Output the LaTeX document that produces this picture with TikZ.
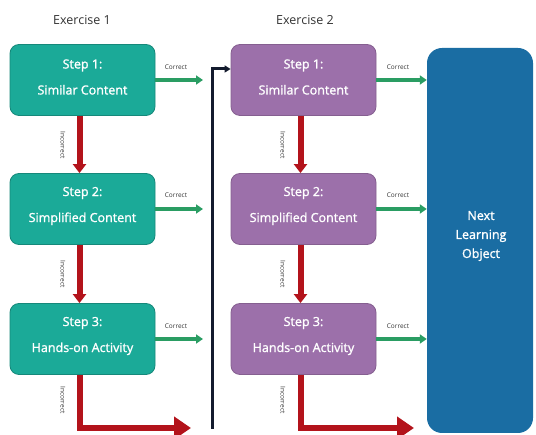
\documentclass[tikz,border=0pt]{standalone}
\usepackage{fontspec}
\setmainfont{Open Sans}
\usetikzlibrary{arrows.meta,calc}
\definecolor{teal1}{HTML}{1BAA98}
\definecolor{purp1}{HTML}{9C70AA}
\definecolor{blue1}{HTML}{1A6DA3}
\definecolor{red1}{HTML}{B3131B}
\definecolor{green1}{HTML}{2A9D63}
\definecolor{navy1}{HTML}{141B2E}
\definecolor{label1}{HTML}{333333}
\newfontfamily\semifont[FakeBold=1.3]{Open Sans}
\tikzset{
  stepbox/.style={rounded corners=9pt, minimum width=145pt, minimum height=71pt, inner sep=0pt},
  steptext/.style={text=white, align=center, font=\semifont\fontsize{12.5}{15}\selectfont, inner sep=0pt},
  teal box/.style={stepbox, fill=teal1, draw=teal1!80!black, line width=0.8pt},
  purp box/.style={stepbox, fill=purp1, draw=purp1!85!black, line width=0.8pt},
  goodarrow/.style={draw=green1, line width=4pt, -{Triangle[length=7pt,width=9pt]}},
  badarrow/.style={draw=red1, line width=6pt, -{Triangle[length=9pt,width=13pt]}},
  badturn/.style={draw=red1, line width=6pt, -{Triangle[length=17pt,width=22pt]}},
  smalllab/.style={font=\fontsize{6.5}{7}\selectfont, text=label1},
  exlab/.style={font=\fontsize{12.5}{14}\selectfont, text=label1},
}
\begin{document}
\begin{tikzpicture}[x=1pt,y=-1pt]
\useasboundingbox (0,0) rectangle (536,435);
% exercise labels
\node[exlab] (ex1) at (82,20) {Exercise 1};
\node[exlab] (ex2) at (305,20) {Exercise 2};
% exercise 1 boxes
\node[teal box] (a1) at (82.5,80) {};
\node[teal box] (a2) at (82.5,209) {};
\node[teal box] (a3) at (82.5,339) {};
\node[steptext] (a1t) at ($(a1)+(0,-3)$) {Step 1:\\[11pt]Similar Content};
\node[steptext] (a2t) at ($(a2)+(0,-3)$) {Step 2:\\[11pt]Simplified Content};
\node[steptext] (a3t) at ($(a3)+(0,-3)$) {Step 3:\\[11pt]Hands-on Activity};
% exercise 2 boxes
\node[purp box] (b1) at (303.5,80) {};
\node[purp box] (b2) at (303.5,209) {};
\node[purp box] (b3) at (303.5,339) {};
\node[steptext] (b1t) at ($(b1)+(0,-3)$) {Step 1:\\[11pt]Similar Content};
\node[steptext] (b2t) at ($(b2)+(0,-3)$) {Step 2:\\[11pt]Simplified Content};
\node[steptext] (b3t) at ($(b3)+(0,-3)$) {Step 3:\\[11pt]Hands-on Activity};
% next learning object
\node[fill=blue1, rounded corners=15pt, minimum width=106pt, minimum height=385pt, inner sep=0pt] (nlo) at (480,240.5) {};
\node[text=white, align=center, font=\semifont\fontsize{12.5}{19}\selectfont] (nlot) at (481,236) {Next\\Learning\\Object};
% correct arrows exercise 1
\coordinate (ca1) at (203,80);
\coordinate (ca2) at (203,209);
\coordinate (ca3) at (203,339);
\draw[goodarrow] (a1.east) -- (ca1);
\draw[goodarrow] (a2.east) -- (ca2);
\draw[goodarrow] (a3.east) -- (ca3);
\node[smalllab] (c1) at (176,67) {Correct};
\node[smalllab] (c2) at (176,195) {Correct};
\node[smalllab] (c3) at (176,326) {Correct};
% correct arrows exercise 2
\draw[goodarrow] (b1.east) -- (nlo.west |- b1.east);
\draw[goodarrow] (b2.east) -- (nlo.west |- b2.east);
\draw[goodarrow] (b3.east) -- (nlo.west |- b3.east);
\node[smalllab] (d1) at (398,67) {Correct};
\node[smalllab] (d2) at (398,195) {Correct};
\node[smalllab] (d3) at (398,326) {Correct};
% incorrect arrows exercise 1
\draw[badarrow] ($(a1.south)+(-3,0)$) -- ($(a2.north)+(-3,0)$);
\draw[badarrow] ($(a2.south)+(-3,0)$) -- ($(a3.north)+(-3,0)$);
\coordinate (ta) at (79.5,428);
\coordinate (ea) at (191,428);
\draw[badturn] ($(a3.south)+(-3,0)$) -- (ta) -- (ea);
\node[smalllab, rotate=-90] (ia1) at (63,145) {Incorrect};
\node[smalllab, rotate=-90] (ia2) at (63,274) {Incorrect};
\node[smalllab, rotate=-90] (ia3) at (63,400) {Incorrect};
% incorrect arrows exercise 2
\draw[badarrow] ($(b1.south)+(-3,0)$) -- ($(b2.north)+(-3,0)$);
\draw[badarrow] ($(b2.south)+(-3,0)$) -- ($(b3.north)+(-3,0)$);
\coordinate (tb) at (300.5,428);
\coordinate (eb) at (414,428);
\draw[badturn] ($(b3.south)+(-3,0)$) -- (tb) -- (eb);
\node[smalllab, rotate=-90] (ib1) at (283,145) {Incorrect};
\node[smalllab, rotate=-90] (ib2) at (283,274) {Incorrect};
\node[smalllab, rotate=-90] (ib3) at (283,400) {Incorrect};
% return line to exercise 2
\coordinate (r0) at (212,429);
\coordinate (r1) at (212,69);
\draw[navy1, line width=3pt, -{Triangle[length=6pt,width=7pt]}] (r0) -- (r1) -- (b1.west |- r1);
\end{tikzpicture}
\end{document}
